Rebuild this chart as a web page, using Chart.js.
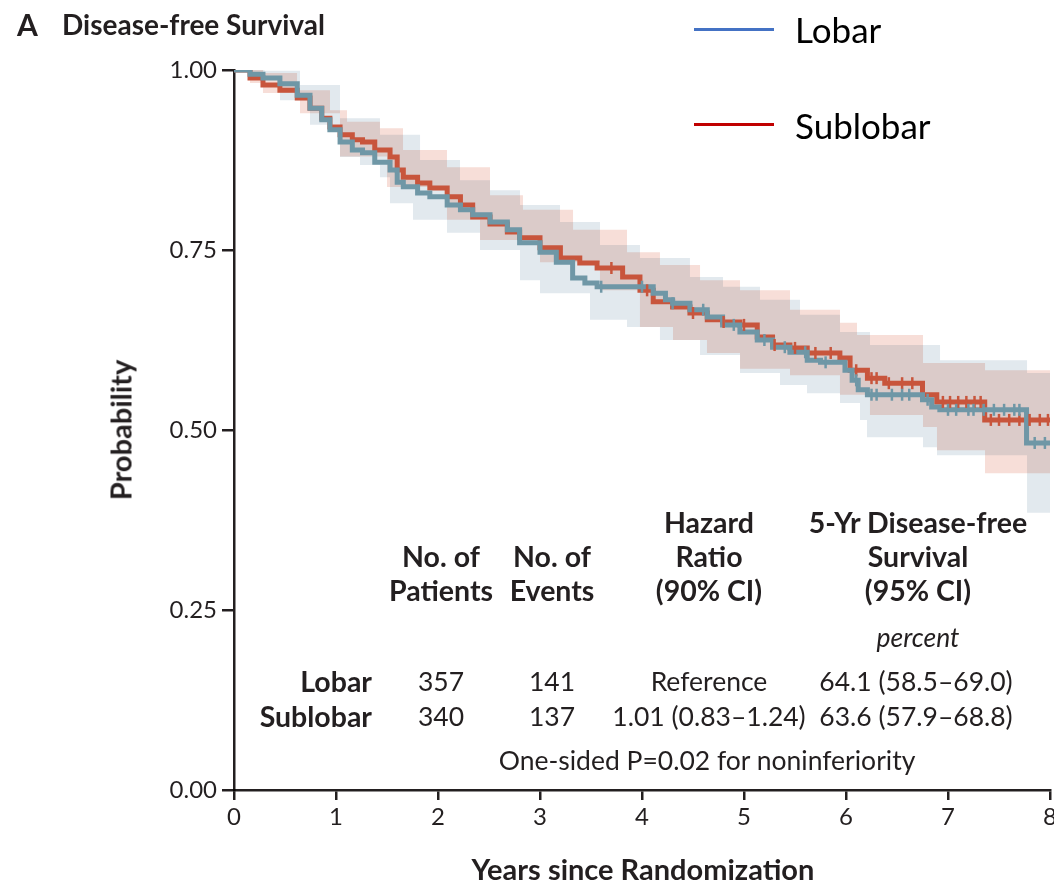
<!DOCTYPE html>
<html><head><meta charset="utf-8">
<script src="https://cdn.jsdelivr.net/npm/chart.js@4.4.0/dist/chart.umd.min.js"></script>
<style>
html,body{margin:0;padding:0;background:#fff;}
#wrap{position:relative;width:1054px;height:886px;overflow:hidden;font-family:Lato,"Open Sans",sans-serif;color:#231f20;}
#c{position:absolute;left:0;top:0;}
.t{position:absolute;white-space:nowrap;line-height:1;transform:translate(-50%,-50%);}
.l{position:absolute;white-space:nowrap;line-height:1;transform:translate(0,-50%);}
.r{position:absolute;white-space:nowrap;line-height:1;transform:translate(-100%,-50%);}
.b{font-weight:700;}
.h{font-size:28.5px;font-weight:700;}
.v{font-size:26.5px;}
</style></head><body>
<div id="wrap">
<canvas id="c" width="1074" height="886"></canvas>
<div class="l b" style="left:17px;top:24px;font-size:30px;">A</div>
<div class="l b" style="left:62px;top:24px;font-size:28px;">Disease-free Survival</div>
<div style="position:absolute;left:694px;top:28px;width:80px;height:3px;background:#4472C4;"></div>
<div class="l" style="left:795px;top:29px;font-size:35px;color:#000;">Lobar</div>
<div style="position:absolute;left:694px;top:123px;width:80px;height:3px;background:#C00000;"></div>
<div class="l" style="left:795px;top:125px;font-size:35px;color:#000;">Sublobar</div>
<div class="t b" style="left:120px;top:430px;font-size:29px;transform:translate(-50%,-50%) rotate(-90deg);">Probability</div>
<div class="t b" style="left:643px;top:868px;font-size:29px;">Years since Randomization</div>

<div class="t h" style="left:441px;top:556px;">No. of</div>
<div class="t h" style="left:441px;top:590px;">Patients</div>
<div class="t h" style="left:552px;top:556px;">No. of</div>
<div class="t h" style="left:552px;top:590px;">Events</div>
<div class="t h" style="left:709px;top:522px;">Hazard</div>
<div class="t h" style="left:709px;top:556px;">Ratio</div>
<div class="t h" style="left:709px;top:590px;">(90% CI)</div>
<div class="t h" style="left:918px;top:522px;">5-Yr Disease-free</div>
<div class="t h" style="left:918px;top:556px;">Survival</div>
<div class="t h" style="left:918px;top:590px;">(95% CI)</div>
<div class="t v" style="left:918px;top:637px;font-style:italic;">percent</div>
<div class="r h" style="left:372px;top:681px;">Lobar</div>
<div class="r h" style="left:372px;top:716px;">Sublobar</div>
<div class="t v" style="left:441px;top:681px;">357</div>
<div class="t v" style="left:441px;top:716px;">340</div>
<div class="t v" style="left:552px;top:681px;">141</div>
<div class="t v" style="left:552px;top:716px;">137</div>
<div class="t v" style="left:709px;top:681px;">Reference</div>
<div class="t v" style="left:709px;top:716px;">1.01 (0.83–1.24)</div>
<div class="t v" style="left:916px;top:681px;">64.1 (58.5–69.0)</div>
<div class="t v" style="left:916px;top:716px;">63.6 (57.9–68.8)</div>
<div class="t v" style="left:707px;top:760px;">One-sided P=0.02 for noninferiority</div>
</div>
<script>
// Kaplan-Meier step points [years, survival]
const lobarSurvival = [[0,1.000],[0.157,0.994],[0.284,0.989],[0.45,0.981],[0.62,0.965],[0.745,0.947],[0.86,0.931],[0.94,0.917],[1.04,0.900],[1.16,0.889],[1.26,0.885],[1.38,0.872],[1.53,0.861],[1.60,0.844],[1.66,0.838],[1.80,0.829],[1.92,0.824],[2.09,0.8125],[2.22,0.806],[2.34,0.799],[2.51,0.789],[2.68,0.778],[2.80,0.760],[3.00,0.747],[3.16,0.733],[3.32,0.711],[3.44,0.704],[3.56,0.699],[4.11,0.690],[4.23,0.681],[4.30,0.676],[4.47,0.667],[4.64,0.657],[4.79,0.646],[4.96,0.636],[5.13,0.625],[5.28,0.615],[5.45,0.608],[5.62,0.597],[5.75,0.594],[5.99,0.583],[6.06,0.569],[6.12,0.556],[6.21,0.549],[6.75,0.542],[6.84,0.532],[6.92,0.528],[7.77,0.482],[8.0,0.482]];
const sublobarSurvival = [[0,1.000],[0.157,0.989],[0.284,0.979],[0.45,0.972],[0.62,0.961],[0.745,0.947],[0.86,0.933],[0.94,0.921],[1.04,0.910],[1.16,0.903],[1.26,0.900],[1.38,0.889],[1.53,0.879],[1.60,0.861],[1.66,0.851],[1.80,0.843],[1.92,0.836],[2.09,0.824],[2.22,0.8125],[2.34,0.796],[2.51,0.786],[2.68,0.775],[2.80,0.767],[3.00,0.753],[3.20,0.739],[3.39,0.732],[3.56,0.725],[3.81,0.7125],[3.98,0.694],[4.11,0.678],[4.30,0.671],[4.47,0.6625],[4.64,0.653],[4.79,0.650],[4.96,0.646],[5.13,0.629],[5.28,0.618],[5.45,0.614],[5.62,0.607],[5.94,0.600],[6.04,0.583],[6.21,0.572],[6.38,0.565],[6.75,0.549],[6.89,0.539],[7.36,0.514],[8.0,0.514]];
// 95% confidence band edges [years, value]
const lobarUpper = [[0,1.0],[0.3,0.999],[0.647,0.979],[1.039,0.933],[1.431,0.91],[1.824,0.875],[2.216,0.847],[2.51,0.833],[2.804,0.8125],[3.196,0.789],[3.588,0.757],[3.98,0.739],[4.47,0.7125],[4.794,0.699],[5.157,0.681],[5.549,0.66],[5.941,0.636],[6.235,0.618],[6.922,0.597],[7.775,0.579],[8,0.579]];
const lobarLower = [[0,1.0],[0.157,0.986],[0.451,0.958],[0.745,0.924],[1.039,0.879],[1.235,0.868],[1.431,0.851],[1.529,0.815],[1.755,0.792],[2.088,0.774],[2.412,0.75],[2.804,0.708],[3.0,0.69],[3.49,0.653],[3.853,0.643],[4.176,0.625],[4.569,0.604],[4.961,0.579],[5.353,0.5625],[5.618,0.551],[5.941,0.5375],[6.137,0.514],[6.206,0.49],[6.755,0.476],[6.892,0.465],[7.775,0.385],[8,0.385]];
const sublobarUpper = [[0,1.0],[0.284,0.996],[0.618,0.972],[0.941,0.944],[1.108,0.928],[1.431,0.919],[1.657,0.889],[2.088,0.865],[2.51,0.826],[2.833,0.806],[3.324,0.778],[3.853,0.747],[4.176,0.729],[4.569,0.708],[4.961,0.694],[5.451,0.667],[5.941,0.649],[6.108,0.632],[6.755,0.593],[7.363,0.583],[8,0.583]];
const sublobarLower = [[0,1.0],[0.157,0.982],[0.284,0.968],[0.647,0.94],[1.039,0.88],[1.5,0.8375],[2.088,0.792],[2.412,0.764],[3.0,0.733],[3.588,0.694],[3.98,0.643],[4.304,0.625],[4.637,0.607],[4.961,0.585],[5.451,0.576],[5.941,0.549],[6.235,0.521],[6.755,0.504],[6.892,0.472],[7.363,0.44],[8,0.44]];
// censoring times (years)
const lobarCensor = [3.6,4.0,4.3,4.6,4.9,5.2,5.4,5.6,5.8,6.1,6.25,6.3,6.45,6.55,6.62,6.8,7.0,7.08,7.2,7.25,7.35,7.45,7.55,7.65,7.7,7.85,7.95];
const sublobarCensor = [3.7,4.05,4.5,4.8,5.0,5.3,5.5,5.7,5.85,6.1,6.25,6.3,6.42,6.55,6.65,6.95,7.02,7.1,7.18,7.26,7.32,7.42,7.5,7.6,7.7,7.8,7.9,7.98];
const xTicks = [0,1,2,3,4,5,6,7,8];
const yTicks = [0,0.25,0.5,0.75,1];

const INK = '#231f20';
const LOBAR_C = '#6f97a6', SUB_C = '#c8553c';
const toPts = a => a.map(([x,y]) => ({x, y}));
const stepAt = (a, t) => { let v = a[0][1]; for (const [x,y] of a) { if (x <= t) v = y; else break; } return v; };
const band = (data, fill, color) => ({data: toPts(data), stepped:'before', borderWidth:0, pointRadius:0, fill, backgroundColor: color, order:10});

new Chart(document.getElementById('c'), {
  type: 'line',
  data: { datasets: [
    band(sublobarUpper, '+1', '#f7ded8'),
    band(sublobarLower, false, 'transparent'),
    band(lobarUpper, '+1', '#e2e9ee'),
    band(lobarLower, false, 'transparent'),
    {label:'Sublobar', data: toPts(sublobarSurvival), stepped:'before', borderColor: SUB_C, borderWidth:5, pointRadius:0, fill:false, order:4},
    {label:'Lobar', data: toPts(lobarSurvival), stepped:'before', borderColor: LOBAR_C, borderWidth:5, pointRadius:0, fill:false, order:3},
    {label:'Sublobar censored', data: sublobarCensor.map(t => ({x:t, y: stepAt(sublobarSurvival, t)})), showLine:false, pointStyle:'line', rotation:90, pointRadius:6, borderWidth:2.5, borderColor: SUB_C, order:2},
    {label:'Lobar censored', data: lobarCensor.map(t => ({x:t, y: stepAt(lobarSurvival, t)})), showLine:false, pointStyle:'line', rotation:90, pointRadius:6, borderWidth:2.5, borderColor: LOBAR_C, order:1}
  ]},
  options: {
    responsive:false, animation:false, devicePixelRatio:1,
    layout:{padding:{top:70, right:24, left:0, bottom:0}},
    plugins:{legend:{display:false}, tooltip:{enabled:false}, filler:{drawTime:'beforeDatasetsDraw', propagate:false}},
    scales:{
      x:{type:'linear', min:0, max:8,
         afterBuildTicks(s){ s.ticks = xTicks.map(v => ({value:v})); },
         ticks:{font:{family:'Lato', size:24}, color:INK, padding:3, maxRotation:0, autoSkip:false, callback:v => String(v)},
         grid:{drawOnChartArea:false, drawTicks:true, tickLength:10, color:INK, lineWidth:2.5},
         border:{display:true, color:INK, width:2.5},
         afterFit(s){ s.height = 96; s.paddingLeft = 0; s.paddingRight = 0; }},
      y:{min:0, max:1,
         afterBuildTicks(s){ s.ticks = yTicks.map(v => ({value:v})); },
         ticks:{font:{family:'Lato', size:24}, color:INK, padding:5, callback:v => Number(v).toFixed(2)},
         grid:{drawOnChartArea:false, drawTicks:true, tickLength:12, color:INK, lineWidth:2.5},
         border:{display:true, color:INK, width:2.5},
         afterFit(s){ s.width = 234; s.paddingTop = 0; s.paddingBottom = 0; }}
    }
  },
  plugins:[{id:'blend',
    beforeDraw(c){ c.ctx.globalCompositeOperation = 'multiply'; },
    beforeDatasetsDraw(c){ c.ctx.globalCompositeOperation = 'source-over'; }
  }]
});
</script>
</body></html>
